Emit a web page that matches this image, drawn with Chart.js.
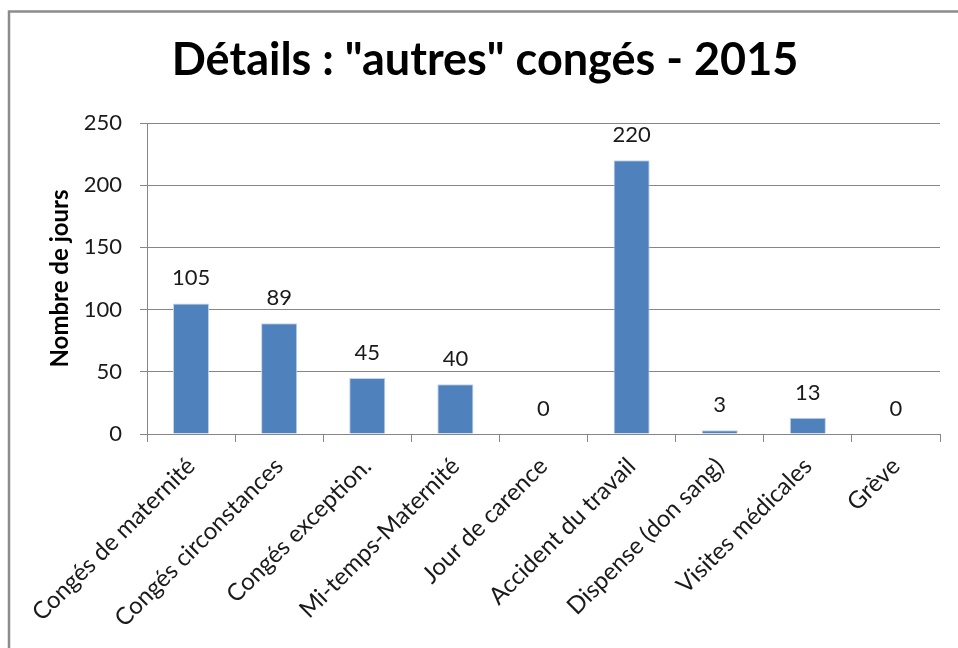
<!DOCTYPE html>
<html>
<head>
<meta charset="utf-8">
<script src="https://cdn.jsdelivr.net/npm/chart.js@4/dist/chart.umd.min.js"></script>
<style>
  html, body { margin: 0; padding: 0; background: #fff; }
  #wrap { width: 958px; height: 648px; }
</style>
</head>
<body>
<div id="wrap"><canvas id="chart" width="958" height="648"></canvas></div>
<script>
const categories = [
  "Congés de maternité",
  "Congés circonstances",
  "Congés exception.",
  "Mi-temps-Maternité",
  "Jour de carence",
  "Accident du travail",
  "Dispense (don sang)",
  "Visites médicales",
  "Grève"
];
const jours = [105, 89, 45, 40, 0, 220, 3, 13, 0];
const yTicks = [0, 50, 100, 150, 200, 250];

const FONT = "Lato";
const gridColor = "#868686";

// white background + the grey frame round the chart
const framePlugin = {
  id: "frame",
  beforeDraw(chart) {
    const c = chart.ctx;
    c.save();
    c.fillStyle = "#fff";
    c.fillRect(0, 0, chart.width, chart.height);
    c.strokeStyle = "#8c8c8c";
    c.lineWidth = 2.5;
    c.strokeRect(9, 11.5, 1000, 1000);
    c.restore();
  }
};

// value labels above the bars
const valueLabels = {
  id: "valueLabels",
  afterDatasetsDraw(chart) {
    const c = chart.ctx;
    const meta = chart.getDatasetMeta(0);
    c.save();
    c.font = "22px " + FONT;
    c.fillStyle = "#1a1a1a";
    c.textAlign = "center";
    c.textBaseline = "alphabetic";
    meta.data.forEach((bar, i) => {
      c.fillText(String(jours[i]), bar.x, bar.y - 18);
    });
    c.restore();
  }
};

new Chart(document.getElementById("chart"), {
  type: "bar",
  data: {
    labels: categories,
    datasets: [{
      data: jours,
      backgroundColor: "#4F81BD",
      borderColor: "#c4d3e8",
      borderWidth: 1,
      barPercentage: 0.41,
      categoryPercentage: 1
    }]
  },
  options: {
    responsive: false,
    animation: false,
    layout: { padding: { left: 30, right: 18, top: 0, bottom: 0 } },
    plugins: {
      legend: { display: false },
      tooltip: { enabled: false },
      title: {
        display: true,
        text: 'Détails : "autres" congés - 2015',
        color: "#000",
        font: { family: FONT, size: 45, weight: "bold", lineHeight: 1.2 },
        padding: { top: 33, bottom: 36 }
      }
    },
    scales: {
      x: {
        offset: true,
        grid: {
          display: true,
          offset: true,
          drawOnChartArea: false,
          drawTicks: true,
          tickLength: 8,
          color: gridColor
        },
        border: { color: gridColor },
        ticks: {
          autoSkip: false,
          minRotation: 45,
          maxRotation: 45,
          padding: 10,
          color: "#1a1a1a",
          font: { family: FONT, size: 24 }
        },
        afterFit(scale) { scale.height = 214; }
      },
      y: {
        min: 0,
        max: 250,
        afterBuildTicks(scale) { scale.ticks = yTicks.map(v => ({ value: v })); },
        grid: { color: gridColor, tickLength: 7 },
        border: { color: gridColor },
        ticks: {
          padding: 18,
          color: "#1a1a1a",
          font: { family: FONT, size: 22 }
        },
        title: {
          display: true,
          text: "Nombre de jours",
          color: "#000",
          font: { family: FONT, size: 24, weight: "bold", lineHeight: 1.2 },
          padding: { top: 16, bottom: 0 }
        },
        afterFit(scale) { scale.width = 117; }
      }
    }
  },
  plugins: [framePlugin, valueLabels]
});
</script>
</body>
</html>
